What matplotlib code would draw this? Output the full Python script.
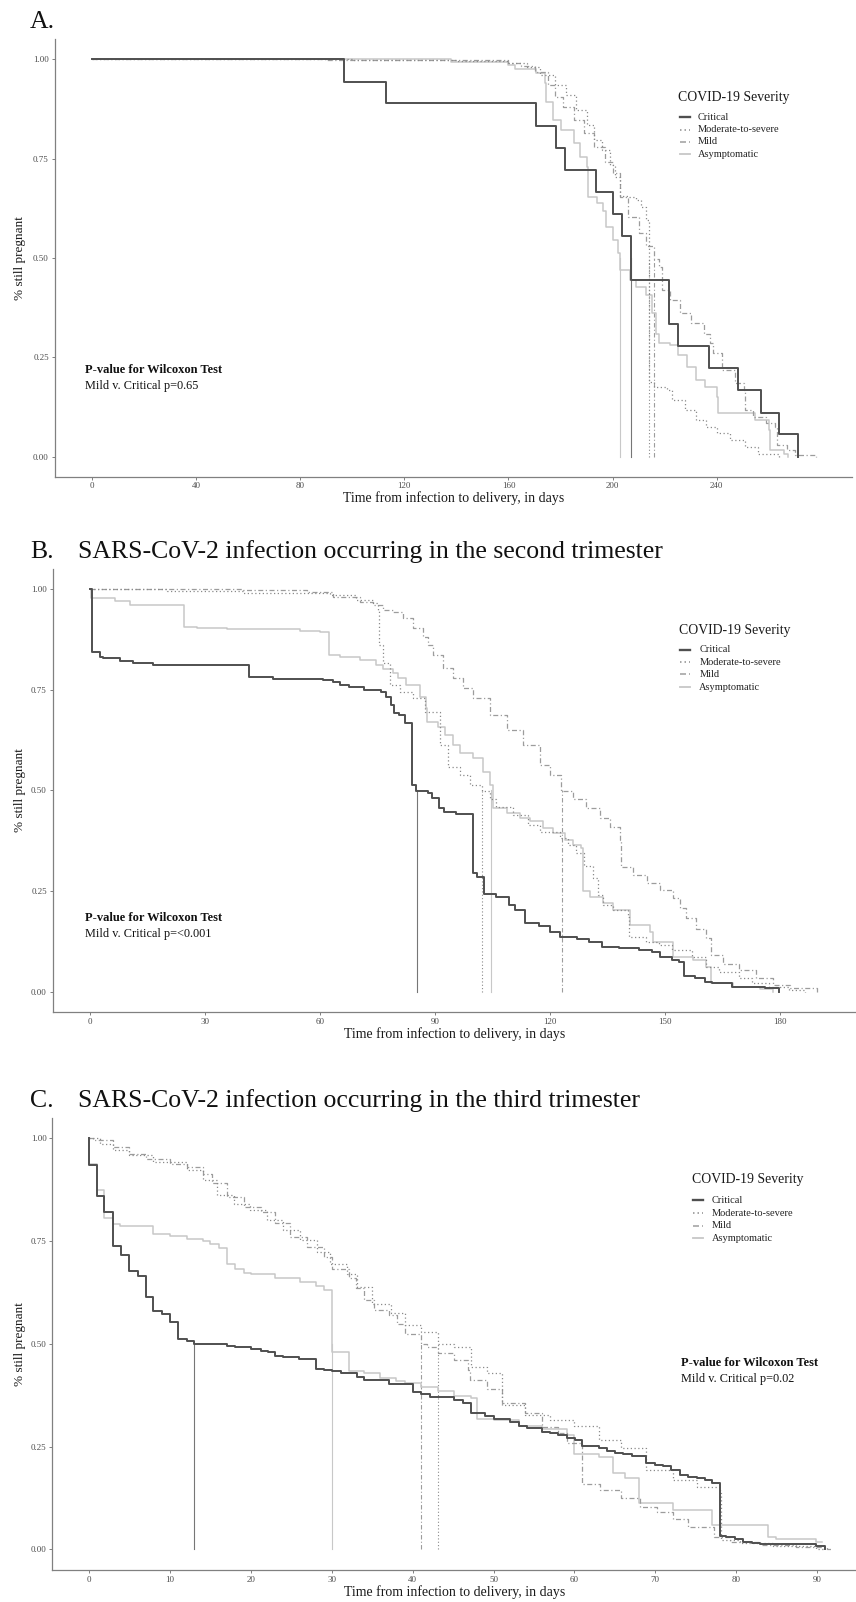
import matplotlib
matplotlib.use('Agg')
import matplotlib.pyplot as plt

plt.rcParams['font.family'] = ['Liberation Serif', 'DejaVu Serif']

W, H = 856, 1602

# ---------------- data ----------------
groups = ["Critical", "Moderate-to-severe", "Mild", "Asymptomatic"]

# Panel A
A_crit_t = [0, 97, 113, 170.7, 178.4, 181.6, 193.8, 200.2, 203.8, 207, 221.8, 225, 237.2, 248.1, 257, 264.1, 271.2]
A_crit_s = [1.0, 0.944, 0.889, 0.833, 0.778, 0.722, 0.667, 0.611, 0.556, 0.444, 0.333, 0.278, 0.222, 0.167, 0.111, 0.056, 0.0]
A_mod_t = [0, 100, 140, 160, 167, 172, 178, 182, 186, 190, 193, 196, 199, 201, 203, 206, 209, 211, 213, 214, 216, 221, 223, 228, 232, 236, 240, 245, 251, 256, 264]
A_mod_s = [1.0, 0.998, 0.995, 0.99, 0.98, 0.96, 0.935, 0.91, 0.872, 0.835, 0.797, 0.772, 0.734, 0.705, 0.657, 0.654, 0.646, 0.629, 0.596, 0.189, 0.176, 0.168, 0.143, 0.117, 0.092, 0.076, 0.059, 0.042, 0.025, 0.008, 0.0]
A_mild_t = [0, 90, 130, 160, 165, 170, 175, 178, 181, 185, 189, 193, 197, 200, 203, 206, 210, 213, 216, 218, 219, 222, 226, 230, 235, 237.5, 238.5, 242, 247, 250.5, 251, 254, 259, 262.5, 263, 267, 270, 278]
A_mild_s = [1.0, 0.999, 0.997, 0.99, 0.982, 0.969, 0.935, 0.906, 0.881, 0.847, 0.814, 0.78, 0.742, 0.713, 0.654, 0.604, 0.562, 0.529, 0.497, 0.478, 0.419, 0.394, 0.361, 0.336, 0.31, 0.285, 0.26, 0.218, 0.185, 0.168, 0.117, 0.1, 0.084, 0.076, 0.029, 0.017, 0.004, 0.0]
A_asym_t = [0, 138, 160, 162.5, 170.5, 174, 174.5, 177, 180, 185, 187.5, 190, 190.5, 194, 196.5, 197.5, 200, 202, 203, 206.5, 209, 213, 215, 216.5, 218, 222, 225, 228.5, 232, 235.5, 240, 240.5, 254.8, 260, 260.5, 266, 267.5]
A_asym_s = [1.0, 0.992, 0.986, 0.975, 0.965, 0.94, 0.893, 0.847, 0.822, 0.789, 0.755, 0.73, 0.654, 0.638, 0.617, 0.579, 0.545, 0.512, 0.47, 0.445, 0.428, 0.407, 0.361, 0.31, 0.285, 0.281, 0.256, 0.227, 0.193, 0.176, 0.151, 0.109, 0.092, 0.067, 0.017, 0.008, 0.0]
A_medians = [207, 214, 216, 203]

# Panel B (second trimester)
B_crit_t = [0, 0.5, 2.5, 3.4, 7.7, 11.2, 16.4, 41.5, 47.8, 60.8, 63.4, 65.1, 67.7, 71.6, 76, 77.3, 78.6, 79.4, 80.7, 82.2, 84, 85, 88.1, 89.2, 91.1, 92.4, 95.4, 100, 101, 102.8, 105.8, 109.3, 111, 113.6, 117.1, 120.1, 122.7, 127.1, 130.1, 133.6, 137.9, 143.1, 146.6, 148.8, 151.8, 153.6, 154.9, 157.9, 160.5, 162.3, 167.5, 176.2, 179.7]
B_crit_s = [1.0, 0.845, 0.833, 0.83, 0.822, 0.817, 0.812, 0.781, 0.777, 0.775, 0.769, 0.762, 0.758, 0.751, 0.746, 0.733, 0.713, 0.692, 0.688, 0.667, 0.514, 0.499, 0.493, 0.481, 0.456, 0.447, 0.441, 0.294, 0.286, 0.244, 0.236, 0.215, 0.203, 0.17, 0.163, 0.149, 0.137, 0.131, 0.123, 0.112, 0.108, 0.104, 0.098, 0.087, 0.079, 0.075, 0.04, 0.033, 0.025, 0.021, 0.012, 0.008, 0.0]
B_mod_t = [0, 20, 40, 62.6, 69.5, 73.9, 75.2, 75.5, 76.5, 78.3, 80.9, 84.3, 87.4, 91.3, 93.5, 96.5, 99.1, 102.2, 104.3, 106, 110.4, 114.3, 117.3, 122.5, 124.7, 126.8, 129, 131.2, 132.5, 133.8, 136.4, 140.3, 140.6, 145, 148.5, 151.9, 157.1, 160.6, 164.1, 169.3, 172.7, 177.1, 182.3, 186.6]
B_mod_s = [1.0, 0.995, 0.99, 0.986, 0.974, 0.965, 0.949, 0.862, 0.816, 0.762, 0.746, 0.729, 0.696, 0.613, 0.559, 0.539, 0.514, 0.499, 0.48, 0.46, 0.439, 0.414, 0.398, 0.381, 0.365, 0.344, 0.312, 0.282, 0.24, 0.215, 0.203, 0.186, 0.137, 0.124, 0.116, 0.104, 0.087, 0.062, 0.05, 0.033, 0.021, 0.012, 0.004, 0.0]
B_mild_t = [0, 40, 56.5, 63.4, 70.4, 73.9, 76.5, 79, 81.7, 84.3, 86.9, 88.2, 89.5, 92.1, 94.7, 97.3, 100, 104.3, 108.7, 113, 117.3, 119.9, 123, 126, 129.5, 133, 135.6, 138.2, 138.5, 141.7, 145.2, 148.6, 152.1, 153.8, 155.5, 158.1, 160.7, 162, 165.1, 169.4, 173.8, 178.1, 182.5, 189.7]
B_mild_s = [1.0, 0.998, 0.994, 0.982, 0.969, 0.961, 0.949, 0.944, 0.928, 0.903, 0.882, 0.862, 0.837, 0.804, 0.779, 0.754, 0.729, 0.688, 0.65, 0.613, 0.563, 0.539, 0.499, 0.48, 0.456, 0.431, 0.41, 0.377, 0.311, 0.29, 0.269, 0.253, 0.232, 0.207, 0.182, 0.157, 0.133, 0.091, 0.07, 0.054, 0.033, 0.017, 0.008, 0.0]
B_asym_t = [0, 0.2, 6.6, 10.5, 24.6, 27.9, 35.7, 54.8, 60, 62.4, 65.1, 70.4, 74.7, 76.4, 79, 80.3, 82.5, 86, 87.7, 88, 90.9, 92.6, 94.8, 96.5, 100, 102.6, 104.3, 105.2, 108.7, 112.1, 114.7, 118.2, 120.8, 123.8, 126, 128.2, 128.5, 130.4, 133.9, 136.5, 140.8, 146, 146.9, 152.1, 157.3, 160.8, 162.1, 167.7, 174.7, 178.2]
B_asym_s = [1.0, 0.979, 0.972, 0.961, 0.907, 0.903, 0.901, 0.897, 0.893, 0.837, 0.832, 0.824, 0.812, 0.802, 0.791, 0.779, 0.762, 0.733, 0.704, 0.671, 0.659, 0.638, 0.613, 0.592, 0.58, 0.547, 0.514, 0.456, 0.443, 0.431, 0.423, 0.406, 0.394, 0.377, 0.365, 0.356, 0.249, 0.236, 0.22, 0.203, 0.166, 0.149, 0.124, 0.087, 0.079, 0.062, 0.021, 0.012, 0.007, 0.0]
B_medians = [85.2, 102.2, 123.2, 104.5]

# Panel C (third trimester)
C_crit_t = [0, 0, 1, 1.9, 3, 4, 5, 6.1, 7, 7.9, 9, 10, 11, 12.1, 13, 17, 18.1, 20, 21.2, 22.1, 23, 24, 26, 28, 29, 30, 31.1, 33.1, 34, 37.1, 40, 41, 42.1, 45.1, 46.2, 47.2, 49, 50, 52, 53.1, 54.1, 56, 57, 58, 59.1, 60.1, 61, 63, 64, 65, 66, 67.1, 68.9, 70, 71, 72, 73, 74.1, 75.1, 76.1, 77, 78, 78.8, 79.8, 80.9, 81.9, 82.9, 89.9, 91]
C_crit_s = [1.0, 0.934, 0.859, 0.821, 0.738, 0.716, 0.677, 0.665, 0.613, 0.58, 0.572, 0.553, 0.511, 0.507, 0.499, 0.494, 0.491, 0.487, 0.483, 0.479, 0.47, 0.467, 0.462, 0.438, 0.436, 0.434, 0.43, 0.42, 0.413, 0.402, 0.383, 0.379, 0.37, 0.363, 0.355, 0.332, 0.324, 0.318, 0.31, 0.3, 0.294, 0.286, 0.282, 0.278, 0.27, 0.266, 0.252, 0.246, 0.239, 0.235, 0.232, 0.227, 0.209, 0.205, 0.203, 0.193, 0.181, 0.177, 0.173, 0.169, 0.162, 0.032, 0.029, 0.024, 0.019, 0.016, 0.012, 0.008, 0.0]
C_mod_t = [0, 1.3, 3, 5, 7.9, 12.1, 14.1, 15.8, 17.9, 19.9, 22, 24, 26.1, 28.2, 29.8, 31.9, 33.1, 35, 37.3, 39.1, 41, 43.1, 45.1, 47.2, 49.2, 51, 51.1, 53.9, 57, 59.9, 63, 65.8, 68.9, 72.2, 75.1, 78, 78.1, 80.5, 84.6, 89.9, 90.7]
C_mod_s = [1.0, 0.987, 0.971, 0.959, 0.942, 0.922, 0.898, 0.861, 0.841, 0.825, 0.801, 0.776, 0.752, 0.724, 0.695, 0.671, 0.639, 0.598, 0.574, 0.545, 0.529, 0.499, 0.493, 0.444, 0.428, 0.4, 0.351, 0.327, 0.314, 0.3, 0.266, 0.246, 0.193, 0.169, 0.152, 0.136, 0.023, 0.015, 0.008, 0.002, 0.0]
C_mild_t = [0, 0.5, 3, 5, 7.1, 10, 12.1, 14.1, 15.2, 17, 19.1, 21.2, 23, 24.9, 26.9, 29, 30, 32.1, 33, 34, 35.2, 37.1, 38.1, 39.1, 41, 41.8, 43.1, 45.1, 46.9, 47.1, 49.2, 51, 51.1, 53.9, 56, 58, 59.1, 60.9, 61, 63.2, 65.8, 68.1, 70.2, 72.2, 74.1, 77.2, 79.2, 82.9, 87.4, 91.2, 92]
C_mild_s = [1.0, 0.995, 0.979, 0.962, 0.95, 0.938, 0.93, 0.914, 0.89, 0.857, 0.833, 0.821, 0.793, 0.76, 0.736, 0.712, 0.683, 0.659, 0.635, 0.606, 0.582, 0.57, 0.549, 0.525, 0.499, 0.493, 0.477, 0.46, 0.436, 0.412, 0.391, 0.375, 0.355, 0.331, 0.298, 0.282, 0.258, 0.217, 0.16, 0.144, 0.124, 0.104, 0.092, 0.075, 0.055, 0.031, 0.019, 0.011, 0.006, 0.002, 0.0]
C_asym_t = [0, 0, 1, 1.9, 3, 3.8, 7.9, 10, 12.1, 14.1, 15, 16.1, 17, 18.1, 19.1, 20, 23, 26.1, 28, 29, 30, 32.1, 34, 36, 38, 39.1, 41, 43.1, 45.1, 47.2, 48, 50, 53.1, 56, 59.1, 60, 63, 64.8, 66.3, 68, 72.2, 77, 83.9, 84.9, 89.9, 90.6]
C_asym_s = [1.0, 0.938, 0.874, 0.806, 0.791, 0.786, 0.768, 0.763, 0.756, 0.75, 0.742, 0.732, 0.695, 0.683, 0.673, 0.669, 0.659, 0.651, 0.64, 0.631, 0.48, 0.434, 0.43, 0.418, 0.41, 0.404, 0.395, 0.386, 0.373, 0.367, 0.318, 0.314, 0.3, 0.292, 0.278, 0.233, 0.225, 0.185, 0.173, 0.113, 0.096, 0.059, 0.029, 0.024, 0.019, 0.019]
C_medians = [13, 43.1, 41, 30]

A_xticks = [0, 40, 80, 120, 160, 200, 240]
B_xticks = [0, 30, 60, 90, 120, 150, 180]
C_xticks = [0, 10, 20, 30, 40, 50, 60, 70, 80, 90]
y_ticks = [0.0, 0.25, 0.50, 0.75, 1.00]
y_ticklabels = ["0.00", "0.25", "0.50", "0.75", "1.00"]

titles = ["SARS-CoV-2 infection occurring in the second trimester",
          "SARS-CoV-2 infection occurring in the third trimester"]
pvals = ["Mild v. Critical p=0.65", "Mild v. Critical p=<0.001", "Mild v. Critical p=0.02"]

# ---------------- style ----------------
colors = ['#4f4f4f', '#8a8a8a', '#9c9c9c', '#c8c8c8']
median_colors = ['#767676', '#8a8a8a', '#9c9c9c', '#c8c8c8']
styles = ['-', (0, (1, 2)), (0, (4, 2, 1, 2)), '-']
widths = [1.4, 0.9, 0.9, 1.1]
zorders = [5, 4, 3, 2]
axis_col = '#808080'
tick_col = '#4d4d4d'

fig = plt.figure(figsize=(W / 100, H / 100), dpi=100)


def fx(x):
    return x / W


def fy(y):
    return 1 - y / H


def panel(rect, xlim, xticks, curves, medians, xlabel_y, legend_pos, pval_pos, pval_text):
    l, r, t, b = rect
    ax = fig.add_axes([l / W, 1 - b / H, (r - l) / W, (b - t) / H])
    for i, (tt, ss) in enumerate(curves):
        ax.step(tt, ss, where='post', color=colors[i], ls=styles[i], lw=widths[i],
                zorder=zorders[i], label=groups[i])
    for i, m in enumerate(medians):
        ax.plot([m, m], [0, 0.5], color=median_colors[i], ls=styles[i], lw=0.8, zorder=1)
    ax.set_xlim(*xlim)
    ax.set_ylim(-0.05, 1.05)
    ax.set_xticks(xticks)
    ax.set_yticks(y_ticks)
    ax.set_yticklabels(y_ticklabels)
    for s in ['top', 'right']:
        ax.spines[s].set_visible(False)
    for s in ['left', 'bottom']:
        ax.spines[s].set_color(axis_col)
        ax.spines[s].set_linewidth(0.9)
    ax.tick_params(axis='both', length=2.2, width=0.7, color=axis_col,
                   labelsize=6.5, labelcolor=tick_col, pad=2)
    ax.patch.set_alpha(0)
    fig.text(fx((l + r) / 2), fy(xlabel_y), "Time from infection to delivery, in days",
             ha='center', va='center', fontsize=10, color='#1a1a1a')
    fig.text(fx(20), fy((t + b) / 2), "% still pregnant", rotation=90,
             ha='center', va='center', fontsize=9.5, color='#1a1a1a')
    # legend
    lx, ly_title, key_x0, key_x1, txt_x, item_ys = legend_pos
    fig.text(fx(lx), fy(ly_title), "COVID-19 Severity", ha='left', va='center',
             fontsize=9.9, color='#1a1a1a')
    for i, yy in enumerate(item_ys):
        ax.plot([fx(key_x0), fx(key_x1)], [fy(yy), fy(yy)], transform=fig.transFigure,
                color=colors[i], ls=styles[i], lw=widths[i] * 1.2, clip_on=False)
        fig.text(fx(txt_x), fy(yy), groups[i], ha='left', va='center',
                 fontsize=7.5, color='#222222')
    # p-value annotation
    px, py1, py2 = pval_pos
    fig.text(fx(px), fy(py1), "P-value for Wilcoxon Test", ha='left', va='center',
             fontsize=9, fontweight='bold', color='#111111')
    fig.text(fx(px), fy(py2), pval_text, ha='left', va='center',
             fontsize=8.8, color='#111111')
    return ax


# Panel A
panel((54.6, 852, 39.4, 476.6), (-14.37, 291.97), A_xticks,
      [(A_crit_t, A_crit_s), (A_mod_t, A_mod_s), (A_mild_t, A_mild_s), (A_asym_t, A_asym_s)],
      A_medians, 498,
      (678, 97.7, 680, 689.5, 697.7, [117.3, 129.7, 142, 154.3]),
      (85, 370, 386), pvals[0])
fig.text(fx(30), fy(28.3), "A.", ha='left', va='baseline', fontsize=18.5, color='#111111')

# Panel B
panel((52.7, 856, 569.2, 1011.8), (-9.73, 199.84), B_xticks,
      [(B_crit_t, B_crit_s), (B_mod_t, B_mod_s), (B_mild_t, B_mild_s), (B_asym_t, B_asym_s)],
      B_medians, 1034,
      (679.3, 630, 680, 690, 699.3, [650, 662.3, 674.3, 687.3]),
      (85.3, 918.3, 934.3), pvals[1])
fig.text(fx(30), fy(558), "B.", ha='left', va='baseline', fontsize=18.5, color='#111111')
fig.text(fx(78), fy(558), titles[0], ha='left', va='baseline', fontsize=18.5, color='#111111')

# Panel C
panel((52.3, 856, 1117.7, 1569.9), (-4.54, 94.81), C_xticks,
      [(C_crit_t, C_crit_s), (C_mod_t, C_mod_s), (C_mild_t, C_mild_s), (C_asym_t, C_asym_s)],
      C_medians, 1592,
      (691.7, 1180, 693, 703, 711.7, [1200.3, 1213, 1225.7, 1238.3]),
      (680.7, 1362.7, 1379.3), pvals[2])
fig.text(fx(30), fy(1107), "C.", ha='left', va='baseline', fontsize=18.5, color='#111111')
fig.text(fx(78), fy(1107), titles[1], ha='left', va='baseline', fontsize=18.5, color='#111111')

fig.savefig("out.png", dpi=100, facecolor='white')
